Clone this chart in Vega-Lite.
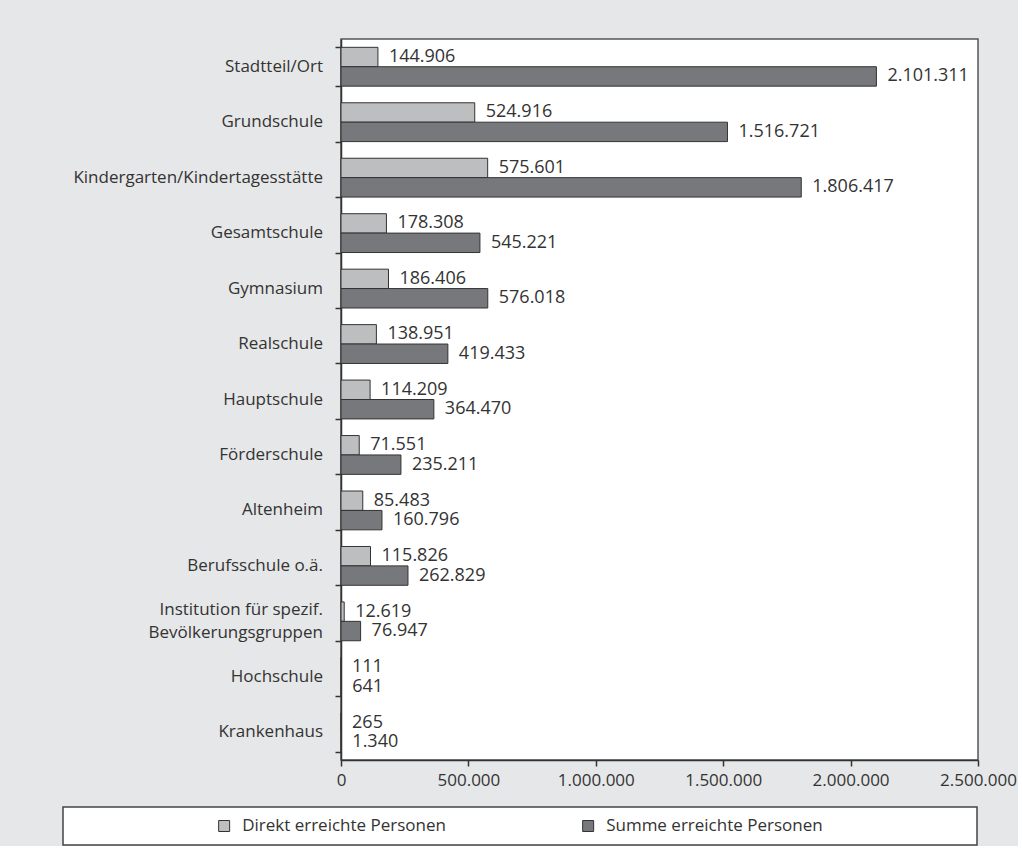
{
  "$schema": "https://vega.github.io/schema/vega-lite/v6.json",
  "background": "#e6e7e8",
  "padding": {"left": 62, "top": 38, "right": 0, "bottom": 0},
  "config": {
    "locale": {"number": {"decimal": ",", "thousands": ".", "grouping": [3], "currency": ["", " €"]}},
    "font": "Open Sans"
  },
  "datasets": {
    "main": [
      {"cat": "Stadtteil/Ort", "series": "Direkt erreichte Personen", "value": 144906},
      {"cat": "Stadtteil/Ort", "series": "Summe erreichte Personen", "value": 2101311},
      {"cat": "Grundschule", "series": "Direkt erreichte Personen", "value": 524916},
      {"cat": "Grundschule", "series": "Summe erreichte Personen", "value": 1516721},
      {"cat": "Kindergarten/Kindertagesstätte", "series": "Direkt erreichte Personen", "value": 575601},
      {"cat": "Kindergarten/Kindertagesstätte", "series": "Summe erreichte Personen", "value": 1806417},
      {"cat": "Gesamtschule", "series": "Direkt erreichte Personen", "value": 178308},
      {"cat": "Gesamtschule", "series": "Summe erreichte Personen", "value": 545221},
      {"cat": "Gymnasium", "series": "Direkt erreichte Personen", "value": 186406},
      {"cat": "Gymnasium", "series": "Summe erreichte Personen", "value": 576018},
      {"cat": "Realschule", "series": "Direkt erreichte Personen", "value": 138951},
      {"cat": "Realschule", "series": "Summe erreichte Personen", "value": 419433},
      {"cat": "Hauptschule", "series": "Direkt erreichte Personen", "value": 114209},
      {"cat": "Hauptschule", "series": "Summe erreichte Personen", "value": 364470},
      {"cat": "Förderschule", "series": "Direkt erreichte Personen", "value": 71551},
      {"cat": "Förderschule", "series": "Summe erreichte Personen", "value": 235211},
      {"cat": "Altenheim", "series": "Direkt erreichte Personen", "value": 85483},
      {"cat": "Altenheim", "series": "Summe erreichte Personen", "value": 160796},
      {"cat": "Berufsschule o.ä.", "series": "Direkt erreichte Personen", "value": 115826},
      {"cat": "Berufsschule o.ä.", "series": "Summe erreichte Personen", "value": 262829},
      {"cat": "Institution für spezif.\nBevölkerungsgruppen", "series": "Direkt erreichte Personen", "value": 12619},
      {"cat": "Institution für spezif.\nBevölkerungsgruppen", "series": "Summe erreichte Personen", "value": 76947},
      {"cat": "Hochschule", "series": "Direkt erreichte Personen", "value": 111},
      {"cat": "Hochschule", "series": "Summe erreichte Personen", "value": 641},
      {"cat": "Krankenhaus", "series": "Direkt erreichte Personen", "value": 265},
      {"cat": "Krankenhaus", "series": "Summe erreichte Personen", "value": 1340}
    ],
    "legend": [
      {"series": "Direkt erreichte Personen"},
      {"series": "Summe erreichte Personen"}
    ]
  },
  "spacing": 17,
  "vconcat": [
    {
      "spacing": 10,
      "hconcat": [
        {
          "width": 260,
          "height": 721,
          "view": {"stroke": null, "fill": null},
          "data": {"name": "main"},
          "transform": [{"filter": "datum.series == 'Direkt erreichte Personen'"}],
          "encoding": {
            "y": {
              "field": "cat",
              "type": "nominal",
              "sort": ["Stadtteil/Ort", "Grundschule", "Kindergarten/Kindertagesstätte", "Gesamtschule", "Gymnasium", "Realschule", "Hauptschule", "Förderschule", "Altenheim", "Berufsschule o.ä.", "Institution für spezif.\nBevölkerungsgruppen", "Hochschule", "Krankenhaus"],
              "scale": {"paddingInner": 0.3, "paddingOuter": 0.15},
              "axis": null
            },
            "x": {"value": "width"},
            "text": {"field": "cat", "type": "nominal"}
          },
          "layer": [
            {
              "transform": [{"filter": "datum.cat != 'Institution für spezif.\\nBevölkerungsgruppen'"}],
              "mark": {"type": "text", "align": "right", "baseline": "middle", "fontSize": 17, "color": "#333"}
            },
            {
              "transform": [{"filter": "datum.cat == 'Institution für spezif.\\nBevölkerungsgruppen'"}],
              "mark": {"type": "text", "align": "right", "baseline": "middle", "fontSize": 17, "color": "#333", "lineBreak": "\n", "lineHeight": 23, "dy": -11.5}
            }
          ]
        },
        {
          "width": 637,
          "height": 721,
          "view": {"fill": "white", "stroke": "#555", "strokeWidth": 1.5},
          "data": {"name": "main"},
          "encoding": {
            "y": {
              "field": "cat",
              "type": "nominal",
              "sort": ["Stadtteil/Ort", "Grundschule", "Kindergarten/Kindertagesstätte", "Gesamtschule", "Gymnasium", "Realschule", "Hauptschule", "Förderschule", "Altenheim", "Berufsschule o.ä.", "Institution für spezif.\nBevölkerungsgruppen", "Hochschule", "Krankenhaus"],
              "scale": {"paddingInner": 0.3, "paddingOuter": 0.15},
              "axis": {
                "title": null,
                "labels": false,
                "tickSize": 6,
                "tickColor": "#333",
                "tickWidth": 1.5,
                "domainColor": "#333",
                "domainWidth": 1.5,
                "tickBand": "extent"
              }
            },
            "yOffset": {"field": "series", "type": "nominal", "sort": ["Direkt erreichte Personen", "Summe erreichte Personen"]},
            "x": {
              "field": "value",
              "type": "quantitative",
              "scale": {"domain": [0, 2500000], "nice": false},
              "axis": {
                "values": [0, 500000, 1000000, 1500000, 2000000, 2500000],
                "format": ",d",
                "title": null,
                "grid": false,
                "labelFontSize": 17,
                "labelColor": "#333",
                "labelPadding": 6,
                "labelFlush": false,
                "labelOverlap": false,
                "tickSize": 6,
                "tickColor": "#333",
                "tickWidth": 1.5,
                "domainColor": "#333",
                "domainWidth": 1.5
              }
            }
          },
          "layer": [
            {
              "mark": {"type": "bar", "stroke": "#333", "strokeWidth": 1},
              "encoding": {
                "color": {
                  "field": "series",
                  "type": "nominal",
                  "scale": {"domain": ["Direkt erreichte Personen", "Summe erreichte Personen"], "range": ["#bcbec0", "#77787b"]},
                  "legend": null
                }
              }
            },
            {
              "mark": {"type": "text", "align": "left", "baseline": "middle", "dx": 11, "fontSize": 18, "color": "#333"},
              "encoding": {"text": {"field": "value", "type": "quantitative", "format": ",d"}}
            }
          ]
        }
      ]
    },
    {
      "width": 914,
      "height": 38,
      "view": {"fill": "white", "stroke": "#444", "strokeWidth": 1.5},
      "data": {"name": "legend"},
      "encoding": {
        "x": {
          "field": "series",
          "type": "nominal",
          "scale": {"type": "point", "padding": 0.7555, "align": 0.293},
          "axis": null
        }
      },
      "layer": [
        {
          "mark": {"type": "point", "shape": "square", "filled": true, "size": 121, "stroke": "#333", "strokeWidth": 1, "opacity": 1},
          "encoding": {
            "color": {
              "field": "series",
              "type": "nominal",
              "scale": {"domain": ["Direkt erreichte Personen", "Summe erreichte Personen"], "range": ["#bcbec0", "#77787b"]},
              "legend": null
            }
          }
        },
        {
          "mark": {"type": "text", "align": "left", "baseline": "middle", "dx": 18, "fontSize": 17, "color": "#333"},
          "encoding": {"text": {"field": "series", "type": "nominal"}}
        }
      ]
    }
  ]
}
